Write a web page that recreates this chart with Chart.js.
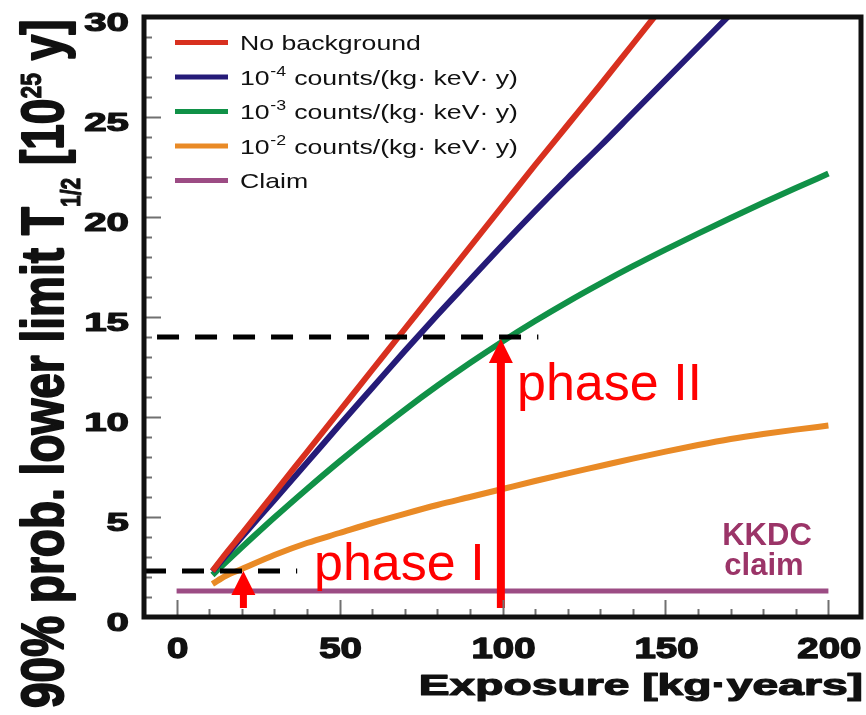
<!DOCTYPE html>
<html>
<head>
<meta charset="utf-8">
<script src="https://cdn.jsdelivr.net/npm/chart.js@4.4.0/dist/chart.umd.min.js"></script>
<style>
  html, body { margin: 0; padding: 0; background: #fff; }
  #wrap { width: 866px; height: 715px; }
</style>
</head>
<body>
<div id="wrap"><canvas id="limit-chart" width="866" height="715"></canvas></div>
<script>
// 数据
const exposure = [11, 15, 20, 30, 40, 50, 60, 70, 80, 90, 100, 110, 120, 130, 140, 150, 160, 170, 180, 190, 200];
const noBackground = [2.3, 3.15, 4.15, 6.2, 8.25, 10.3, 12.35, 14.4, 16.45, 18.5, 20.55, 22.6, 24.6, 26.6, 28.65, 30.7, null, null, null, null, null];
const bkg1e4 = [2.28, 3.05, 4.0, 5.85, 7.72, 9.6, 11.45, 13.3, 15.1, 16.85, 18.6, 20.3, 21.95, 23.55, 25.2, 26.85, 28.5, 30.15, 31.8, null, null];
const bkg1e3 = [2.1, 2.72, 3.48, 4.97, 6.4, 7.78, 9.1, 10.36, 11.56, 12.7, 13.78, 14.8, 15.76, 16.67, 17.54, 18.37, 19.17, 19.95, 20.71, 21.45, 22.17];
const bkg1e2 = [1.65, 2.05, 2.4, 3.1, 3.7, 4.2, 4.7, 5.16, 5.6, 6.0, 6.4, 6.8, 7.18, 7.55, 7.92, 8.27, 8.6, 8.9, 9.15, 9.37, 9.57];
const claimX = [0, 200];
const claimY = [1.3, 1.3];

const phase2LineX = [-6, 111];
const phase2LineY = [14, 14];
const phase1LineX = [-10, 37];
const phase1LineY = [2.3, 2.3];

const arrowX = [20.5, 99.5];
const arrowFrom = [0.45, 0.45];
const arrowTo = [2.3, 13.9];

const xTicks = [0, 50, 100, 150, 200];
const yTicks = [0, 5, 10, 15, 20, 25, 30];

const seriesLabels = ['No background', '10^-4 counts/(kg· keV· y)', '10^-3 counts/(kg· keV· y)', '10^-2 counts/(kg· keV· y)', 'Claim'];
const seriesColors = ['#d8301f', '#251b78', '#109147', '#e98a26', '#9c4c84'];

function pts(xs, ys) {
  return xs.map((x, i) => ({ x: x, y: ys[i] }));
}

// 横向拉伸的粗体文字（加描边更黑）
function stretchText(ctx, text, x, y, sx, align, heavy) {
  ctx.save();
  ctx.translate(x, y);
  ctx.scale(sx, 1);
  ctx.textAlign = align;
  ctx.fillText(text, 0, 0);
  if (heavy) {
    ctx.lineWidth = heavy;
    ctx.lineJoin = 'round';
    ctx.strokeStyle = ctx.fillStyle;
    ctx.strokeText(text, 0, 0);
  }
  ctx.restore();
}

const SANS = '"Liberation Sans", Arial, sans-serif';

// 坐标框、刻度、标签
const framePlugin = {
  id: 'frame',
  afterDatasetsDraw(chart) {
    const ctx = chart.ctx;
    const a = chart.chartArea;
    const xs = chart.scales.x;
    const ys = chart.scales.y;
    ctx.save();

    // 箭头
    ctx.fillStyle = '#ff0000';
    arrowX.forEach((ax, i) => {
      const px = xs.getPixelForValue(ax);
      const yb = ys.getPixelForValue(arrowFrom[i]);
      const yt = ys.getPixelForValue(arrowTo[i]);
      const shaft = i === 0 ? 7 : 8;
      const headH = 24, headW = 24;
      ctx.fillRect(px - shaft / 2, yt + headH - 1, shaft, yb - yt - headH + 1);
      ctx.beginPath();
      ctx.moveTo(px, yt);
      ctx.lineTo(px + headW / 2, yt + headH);
      ctx.lineTo(px - headW / 2, yt + headH);
      ctx.closePath();
      ctx.fill();
    });

    // 注释文字
    ctx.font = '52px ' + SANS;
    ctx.textBaseline = 'alphabetic';
    ctx.textAlign = 'left';
    ctx.fillText('phase I', 314, 580);
    ctx.fillText('phase II', 517, 400);
    ctx.fillStyle = '#9b3468';
    ctx.font = 'bold 31px ' + SANS;
    ctx.textAlign = 'center';
    ctx.fillText('KKDC', 767, 545);
    ctx.fillText('claim', 764, 575);

    // 内向刻度
    ctx.strokeStyle = '#707070';
    ctx.lineWidth = 2;
    ctx.beginPath();
    for (let v = 0; v <= 200; v += 10) {
      const px = Math.round(xs.getPixelForValue(v)) + 0.5;
      const len = v % 50 === 0 ? 17 : 8;
      ctx.moveTo(px, a.bottom);
      ctx.lineTo(px, a.bottom - len);
    }
    for (let v = 1; v < 30; v += 1) {
      const py = Math.round(ys.getPixelForValue(v)) + 0.5;
      const len = v % 5 === 0 ? 17 : 8;
      ctx.moveTo(a.left, py);
      ctx.lineTo(a.left + len, py);
    }
    ctx.stroke();

    // 边框
    ctx.strokeStyle = '#111';
    ctx.lineWidth = 5;
    ctx.strokeRect(a.left, a.top, a.right - a.left, a.bottom - a.top);

    // 图例
    ctx.textAlign = 'left';
    chart.data.datasets.slice(0, 5).forEach((ds, i) => {
      const y = 42.5 + 34.5 * i;
      ctx.strokeStyle = ds.borderColor;
      ctx.lineWidth = 5;
      ctx.beginPath();
      ctx.moveTo(175, y);
      ctx.lineTo(228, y);
      ctx.stroke();
      ctx.fillStyle = '#111';
      const m = ds.label.match(/^10\^(-\d)(.*)$/);
      ctx.save();
      ctx.translate(240, y + 7.5);
      ctx.scale(1.27, 1);
      if (m) {
        ctx.font = '21px ' + SANS;
        ctx.fillText('10', 0, 0);
        let w = ctx.measureText('10').width;
        ctx.font = '14px ' + SANS;
        ctx.fillText(m[1], w + 0.5, -9);
        w += ctx.measureText(m[1]).width + 1;
        ctx.font = '21px ' + SANS;
        ctx.fillText(m[2], w, 0);
      } else {
        ctx.font = '21px ' + SANS;
        ctx.fillText(ds.label, 0, 0);
      }
      ctx.restore();
    });

    // 刻度标签
    ctx.fillStyle = '#111';
    ctx.font = 'bold 30px ' + SANS;
    xTicks.forEach(v => {
      stretchText(ctx, String(v), xs.getPixelForValue(v) + 1, 658, 1.28, 'center', 1.4);
    });
    ctx.font = 'bold 26px ' + SANS;
    yTicks.forEach(v => {
      stretchText(ctx, String(v), 129, ys.getPixelForValue(v) + 13.5, 1.55, 'right', 1.2);
    });

    // x 轴标题
    ctx.font = 'bold 30px ' + SANS;
    stretchText(ctx, 'Exposure [kg·years]', 863, 695, 1.54, 'right', 1.2);

    // y 轴标题
    ctx.save();
    ctx.translate(63, 708);
    ctx.rotate(-Math.PI / 2);
    ctx.scale(1, 1.3);
    ctx.textAlign = 'left';
    ctx.strokeStyle = '#111';
    ctx.lineJoin = 'round';
    let cx = 0;
    const part = (t, size, dy) => {
      ctx.font = 'bold ' + size + 'px ' + SANS;
      ctx.fillText(t, cx, dy);
      ctx.lineWidth = size > 30 ? 1.6 : 0.8;
      ctx.strokeText(t, cx, dy);
      cx += ctx.measureText(t).width;
    };
    part('90% prob. lower limit T', 46, 0);
    part('1/2', 21, 13);
    part(' [10', 46, 0);
    part('25', 23, -17);
    part(' y]', 46, 0);
    ctx.restore();

    ctx.restore();
  }
};

const lineStyle = { borderWidth: 6, pointRadius: 0, fill: false, cubicInterpolationMode: 'monotone' };

const ctx = document.getElementById('limit-chart').getContext('2d');
const limitChart = new Chart(ctx, {
  type: 'line',
  data: {
    datasets: [
      Object.assign({ label: seriesLabels[0], data: pts(exposure, noBackground), borderColor: seriesColors[0] }, lineStyle),
      Object.assign({ label: seriesLabels[1], data: pts(exposure, bkg1e4), borderColor: seriesColors[1] }, lineStyle),
      Object.assign({ label: seriesLabels[2], data: pts(exposure, bkg1e3), borderColor: seriesColors[2] }, lineStyle),
      Object.assign({ label: seriesLabels[3], data: pts(exposure, bkg1e2), borderColor: seriesColors[3] }, lineStyle),
      Object.assign({ label: seriesLabels[4], data: pts(claimX, claimY), borderColor: seriesColors[4] }, lineStyle, { borderWidth: 5 }),
      { label: 'phase II', data: pts(phase2LineX, phase2LineY), borderColor: '#000', borderWidth: 5, borderDash: [22, 16], pointRadius: 0, order: -1 },
      { label: 'phase I', data: pts(phase1LineX, phase1LineY), borderColor: '#000', borderWidth: 5, borderDash: [22, 16], pointRadius: 0, order: -1 }
    ]
  },
  options: {
    responsive: false,
    animation: false,
    devicePixelRatio: 1,
    layout: { padding: { left: 0, right: 5, top: 17, bottom: 0 } },
    plugins: { legend: { display: false }, tooltip: { enabled: false } },
    scales: {
      x: {
        type: 'linear', min: -10, max: 210,
        ticks: { display: false },
        grid: { display: false },
        border: { display: false },
        afterFit: s => { s.height = 98; }
      },
      y: {
        type: 'linear', min: 0, max: 30,
        ticks: { display: false },
        grid: { display: false },
        border: { display: false },
        afterFit: s => { s.width = 144; }
      }
    }
  },
  plugins: [framePlugin]
});
</script>
</body>
</html>
